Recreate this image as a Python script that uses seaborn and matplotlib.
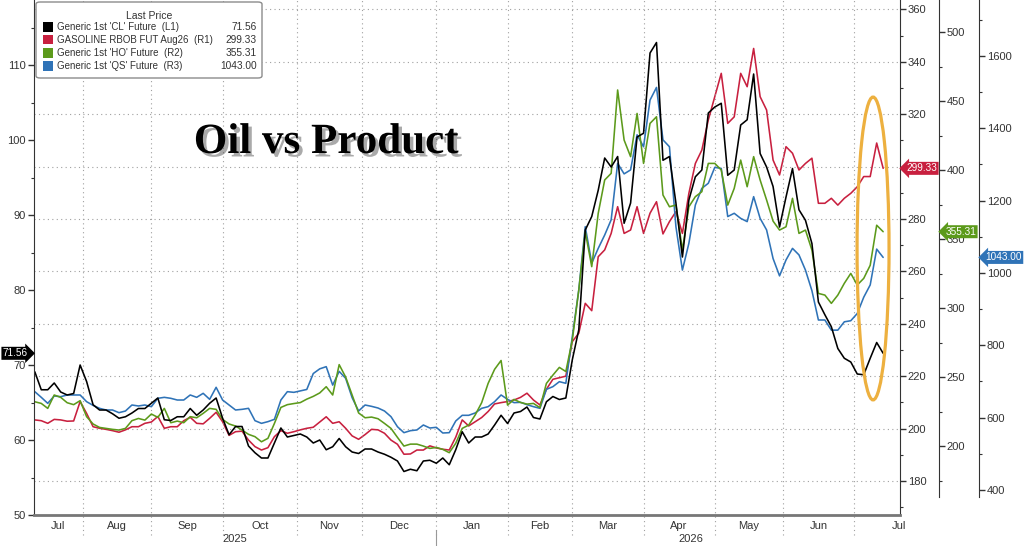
import matplotlib
matplotlib.use("Agg")
import matplotlib.pyplot as plt
import matplotlib.patheffects as pe
from matplotlib.patches import Ellipse, FancyBboxPatch, Rectangle
from matplotlib.ticker import FuncFormatter, MultipleLocator
import numpy as np
import pandas as pd
import seaborn as sns


# --- Data --------------------------------------------------------------------
# One reading every second business day, starting 11 Jul 2025.
START_DATE = "2025-07-11"

cl_future = [
    69.1, 66.7, 66.7, 67.6, 66.4, 66.0, 66.2, 70.0, 67.8, 64.7,
    64.0, 64.0, 63.5, 62.9, 63.1, 63.6, 64.2, 64.2, 64.9, 65.6,
    62.7, 62.6, 63.1, 63.1, 64.2, 63.3, 64.0, 64.9, 65.6, 62.9,
    60.7, 61.8, 61.8, 59.2, 58.3, 57.6, 57.6, 59.6, 61.6, 60.4,
    60.6, 60.8, 60.4, 59.6, 60.0, 58.7, 59.1, 60.2, 59.1, 58.4,
    58.2, 58.8, 58.8, 58.4, 58.1, 57.7, 57.2, 55.8, 56.1, 55.9,
    57.2, 57.3, 56.9, 57.6, 56.7, 58.7, 61.1, 59.6, 60.4, 60.4,
    60.8, 62.0, 63.3, 62.2, 63.6, 63.8, 64.4, 63.0, 62.8, 65.1,
    65.8, 65.4, 65.6, 70.7, 74.7, 88.0, 89.8, 93.3, 97.6, 96.4,
    97.8, 88.9, 91.6, 100.4, 100.9, 111.6, 113.0, 97.3, 97.8, 91.6,
    84.4, 92.0, 95.1, 96.0, 103.6, 104.4, 104.9, 95.3, 96.0, 102.0,
    102.7, 108.8, 98.2, 96.4, 93.8, 88.4, 92.4, 96.2, 90.7, 89.3,
    86.2, 78.4, 76.7, 75.1, 72.2, 70.9, 70.4, 68.8, 68.7, 70.9,
    73.0, 71.56,
]

rbob_future = [
    203.3, 203.0, 202.0, 203.5, 203.3, 202.8, 202.9, 210.3, 205.8, 200.7,
    200.1, 199.7, 199.2, 198.6, 199.5, 200.7, 200.7, 202.0, 202.5, 204.6,
    200.1, 200.7, 200.7, 203.0, 204.3, 202.0, 201.8, 203.9, 206.2, 202.6,
    197.4, 198.8, 199.0, 195.6, 193.1, 191.8, 192.7, 196.9, 199.2, 198.2,
    198.8, 199.5, 200.1, 200.5, 202.5, 204.5, 202.0, 202.6, 200.1, 197.2,
    195.9, 197.7, 199.7, 199.5, 198.2, 195.6, 194.0, 190.2, 190.3, 191.8,
    191.8, 193.4, 192.6, 192.1, 191.8, 196.7, 203.3, 201.0, 202.6, 204.2,
    206.5, 209.4, 209.9, 210.3, 210.9, 211.9, 213.5, 210.9, 209.0, 215.0,
    218.8, 219.4, 220.0, 233.2, 236.4, 247.8, 245.0, 265.6, 268.2, 274.5,
    284.7, 274.5, 275.8, 284.7, 274.5, 282.2, 286.6, 274.3, 279.0, 282.8,
    274.5, 289.8, 301.2, 306.3, 317.8, 326.7, 335.6, 316.5, 319.0, 335.6,
    330.5, 345.1, 326.7, 321.6, 302.5, 296.8, 307.6, 305.1, 298.7, 301.2,
    303.2, 286.0, 286.0, 287.9, 285.3, 287.9, 289.8, 292.3, 296.2, 296.2,
    309.0, 299.33,
]

ho_future = [
    232.1, 230.9, 227.3, 237.0, 235.3, 231.4, 230.0, 232.9, 221.3, 216.0,
    213.5, 212.8, 212.1, 211.6, 212.8, 218.4, 220.0, 218.8, 223.2, 220.8,
    227.3, 216.9, 218.1, 216.9, 221.3, 220.5, 223.7, 227.3, 226.6, 219.3,
    216.0, 214.5, 211.6, 208.5, 206.8, 203.1, 205.6, 216.4, 228.0, 230.0,
    230.8, 231.5, 234.0, 236.0, 238.5, 243.0, 237.0, 259.0, 250.0, 237.0,
    224.0, 220.5, 221.0, 219.8, 216.4, 212.8, 206.3, 200.0, 201.4, 201.4,
    200.0, 198.3, 199.0, 197.6, 195.2, 202.0, 212.8, 215.2, 222.5, 231.4,
    245.4, 255.6, 262.0, 229.7, 233.8, 231.6, 230.4, 230.9, 227.8, 245.4,
    251.4, 257.0, 254.0, 276.8, 313.0, 355.3, 330.0, 368.6, 392.8, 397.6,
    458.0, 421.7, 409.7, 441.0, 404.8, 433.8, 438.6, 381.9, 373.4, 374.6,
    342.0, 373.4, 380.7, 384.3, 404.8, 404.8, 400.0, 374.6, 386.7, 407.2,
    387.9, 409.7, 392.8, 378.3, 363.0, 356.5, 358.9, 379.5, 354.1, 356.5,
    342.0, 310.6, 309.4, 303.4, 309.4, 317.9, 325.1, 316.7, 321.5, 331.0,
    360.0, 355.31,
]

qs_future = [
    671.9, 656.2, 639.6, 660.0, 658.0, 662.7, 662.7, 662.7, 644.2, 634.0,
    625.8, 621.2, 621.2, 613.8, 618.4, 635.0, 632.3, 635.0, 630.4, 653.5,
    656.2, 653.5, 648.8, 648.8, 662.7, 656.2, 667.3, 650.7, 683.9, 648.8,
    635.0, 621.2, 623.0, 625.8, 591.7, 584.3, 589.0, 595.4, 648.8, 671.9,
    670.0, 674.0, 678.0, 722.0, 735.0, 741.0, 690.0, 728.0, 708.8, 655.3,
    618.4, 635.0, 631.3, 626.7, 618.4, 602.8, 575.0, 558.5, 564.0, 566.0,
    579.7, 571.4, 573.3, 557.6, 558.5, 590.8, 606.5, 606.5, 613.0, 625.8,
    630.4, 644.2, 662.7, 650.7, 641.5, 642.4, 636.0, 630.4, 625.8, 678.3,
    685.7, 699.5, 695.0, 824.0, 953.0, 1128.0, 1027.0, 1068.0, 1105.0, 1147.0,
    1303.0, 1274.0, 1285.0, 1382.0, 1349.0, 1478.0, 1513.0, 1368.0, 1349.0, 1128.0,
    1008.0, 1082.0, 1188.0, 1234.0, 1248.0, 1292.0, 1289.0, 1156.0, 1165.0, 1151.0,
    1142.0, 1211.0, 1151.0, 1119.0, 1040.0, 992.0, 1036.0, 1068.0, 1050.0, 1008.0,
    951.0, 870.0, 870.0, 842.0, 842.0, 865.0, 868.0, 888.0, 933.0, 967.0,
    1066.0, 1043.0,
]

series_names = [
    "Generic 1st 'CL' Future  (L1)",
    "GASOLINE RBOB FUT Aug26  (R1)",
    "Generic 1st 'HO' Future  (R2)",
    "Generic 1st 'QS' Future  (R3)",
]
last_prices = [71.56, 299.33, 355.31, 1043.00]


# --- Frame -------------------------------------------------------------------
bdays = pd.bdate_range(START_DATE, "2026-09-30")
pos = np.arange(len(cl_future)) * 2
df = pd.DataFrame({
    "pos": pos,
    "date": bdays[pos],
    "CL": cl_future,
    "XB": rbob_future,
    "HO": ho_future,
    "QS": qs_future,
})

# month boundaries, measured in business days from the start
month_starts = pd.date_range("2025-08-01", "2026-07-01", freq="MS")
month_pos = bdays.searchsorted(month_starts)
month_names = [d.strftime("%b") for d in pd.date_range("2025-07-01", "2026-07-01", freq="MS")]
X_LO, X_HI, LABEL_END = -0.4, 267.2, 281.0
jan_pos = month_pos[list(month_starts.month).index(1)]


# --- Style -------------------------------------------------------------------
sns.set_style("ticks")
plt.rcParams["font.family"] = ["Liberation Sans", "DejaVu Sans"]

RED, GREEN, BLUE, ORANGE = "#C8203F", "#5C9A1B", "#2F73B7", "#EDB03F"
colors = ["#000000", RED, GREEN, BLUE]
GRID = "#a0a0a0"
TXT = "#333333"
FS = 8

W, H = 1024, 546
fig = plt.figure(figsize=(W / 100, H / 100), dpi=100)
fig.patch.set_facecolor("white")
ax_cl = fig.add_axes([33.5 / W, 1 - 515 / H, 866.5 / W, 515 / H])
ax_rb = ax_cl.twinx()
ax_ho = ax_cl.twinx()
ax_qs = ax_cl.twinx()

# red at the bottom (it carries the grid), black on top
for z, a in enumerate([ax_rb, ax_qs, ax_ho, ax_cl], start=1):
    a.set_zorder(z)
    a.patch.set_visible(False)


# --- Lines -------------------------------------------------------------------
for a, col, c in [(ax_rb, "XB", RED), (ax_qs, "QS", BLUE),
                  (ax_ho, "HO", GREEN), (ax_cl, "CL", "black")]:
    sns.lineplot(data=df, x="pos", y=col, ax=a, color=c, linewidth=1.15)
    a.set_xlabel("")
    a.set_ylabel("")

ax_cl.set_xlim(X_LO, X_HI)
ax_cl.set_ylim(50, 118.67)
ax_rb.set_ylim(167.0, 363.6)
ax_ho.set_ylim(150.05, 523.2)
ax_qs.set_ylim(330.9, 1754.7)


# --- Axes --------------------------------------------------------------------
ax_cl.spines["top"].set_visible(False)
ax_cl.spines["right"].set_visible(False)
ax_cl.spines["left"].set_color(TXT)
ax_cl.spines["bottom"].set_color("#777777")
ax_cl.spines["bottom"].set_linewidth(2)
for a in (ax_rb, ax_ho, ax_qs):
    for s in ("top", "bottom", "left"):
        a.spines[s].set_visible(False)
    a.spines["right"].set_color(TXT)
ax_ho.spines["right"].set_position(("axes", 1.045))
ax_qs.spines["right"].set_position(("axes", 1.0912))
# the two outer scales stop a little above the date axis
ax_ho.spines["right"].set_bounds(163, 523.2)
ax_qs.spines["right"].set_bounds(381, 1754.7)

steps = [(ax_cl, 10, 5), (ax_rb, 20, 10), (ax_ho, 50, 25), (ax_qs, 200, 100)]
for a, major, minor in steps:
    a.yaxis.set_major_locator(MultipleLocator(major))
    a.yaxis.set_minor_locator(MultipleLocator(minor))
    left = a is ax_cl
    a.tick_params(axis="y", which="both", direction="out", color=TXT,
                  left=left, labelleft=left, right=not left, labelright=not left)
    a.tick_params(axis="y", which="major", length=4, width=1, pad=1.5,
                  labelsize=FS, labelcolor=TXT)
    a.tick_params(axis="y", which="minor", length=2.5, width=0.8)
ax_cl.set_xticks([])

# the RBOB last-price tag sits on top of the 300 label, as in the terminal view
ax_rb.yaxis.set_major_formatter(
    FuncFormatter(lambda v, p: "" if abs(v - last_prices[1]) < 5 else f"{v:.0f}"))

# dotted grid: horizontal on the R1 ticks, vertical on month starts
ax_rb.grid(axis="y", which="major", color=GRID, linestyle=(0, (1, 3)), linewidth=0.8)
for p in month_pos:
    ax_rb.axvline(p, ymin=-0.039, ymax=1, color=GRID, linestyle=(0, (1, 3)),
                  linewidth=0.8, clip_on=False)

# month and year labels
bounds = np.concatenate([[X_LO], month_pos, [LABEL_END]])
centers = (bounds[:-1] + bounds[1:]) / 2
xt = ax_cl.get_xaxis_transform()
for c, name in zip(centers, month_names):
    ax_cl.text(c, -0.021, name, transform=xt, ha="center", va="center",
               fontsize=FS, color=TXT, clip_on=False)
for c, year in [((X_LO + jan_pos) / 2, "2025"), ((jan_pos + LABEL_END) / 2, "2026")]:
    ax_cl.text(c, -0.047, year, transform=xt, ha="center", va="center",
               fontsize=FS, color=TXT, clip_on=False)
ax_cl.plot([jan_pos, jan_pos], [-0.03, -0.065], transform=xt, color="#999999",
           linewidth=0.8, clip_on=False)


# --- Last price tags ---------------------------------------------------------
ax_cl.text(-0.0063, last_prices[0], f"{last_prices[0]:.2f}",
           transform=ax_cl.get_yaxis_transform(), ha="right", va="center",
           fontsize=7.2, color="white", clip_on=False,
           bbox=dict(boxstyle="rarrow,pad=0.15", fc="black", ec="none"))
for a, spine_x, val, c in [(ax_rb, 1.0, last_prices[1], RED),
                           (ax_ho, 1.045, last_prices[2], GREEN),
                           (ax_qs, 1.0912, last_prices[3], BLUE)]:
    a.text(spine_x + 0.0072, val, f"{val:.2f}", transform=a.get_yaxis_transform(),
           ha="left", va="center", fontsize=7.2, color="white", clip_on=False,
           bbox=dict(boxstyle="larrow,pad=0.15", fc=c, ec="none"))

# hand-drawn highlight around the latest moves
ax_cl.add_patch(Ellipse((0.9689, 0.5175), 0.0369, 0.588, transform=ax_cl.transAxes,
                        fill=False, ec=ORANGE, lw=2.3, zorder=6, clip_on=False))


# --- Title -------------------------------------------------------------------
fig.text(326 / W, 1 - 143 / H, "Oil vs Product", ha="center", va="center",
         fontsize=31, fontweight="bold", family="Liberation Serif", color="black",
         zorder=10,
         path_effects=[pe.withSimplePatchShadow(offset=(2.5, -2.5),
                                                shadow_rgbFace="#444444", alpha=0.45)])


# --- Legend box --------------------------------------------------------------
fig.add_artist(FancyBboxPatch((36 / W, 1 - 78 / H), 226 / W, 76 / H,
                              boxstyle="round,pad=0,rounding_size=0.004",
                              transform=fig.transFigure, fc="white", ec="#8c8c8c",
                              lw=1, zorder=10))
fig.text(149 / W, 1 - 16 / H, "Last Price", ha="center", va="center",
         fontsize=7.5, color=TXT, zorder=11)
for k, (name, val, c) in enumerate(zip(series_names, last_prices, colors)):
    y = 1 - (27 + 13 * k) / H
    fig.add_artist(Rectangle((43 / W, y - 4.5 / H), 10 / W, 9 / H,
                             transform=fig.transFigure, fc=c, ec="none", zorder=11))
    fig.text(57 / W, y, name, ha="left", va="center", fontsize=7.0, color=TXT, zorder=11)
    fig.text(257 / W, y, f"{val:.2f}", ha="right", va="center", fontsize=7.3,
             color=TXT, zorder=11)

fig.savefig("out.png", dpi=100)
plt.close(fig)
